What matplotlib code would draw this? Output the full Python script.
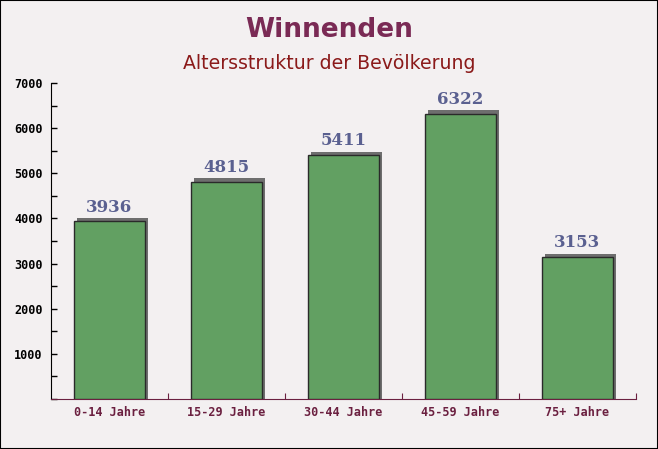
import matplotlib
matplotlib.use("Agg")
import matplotlib.pyplot as plt
from matplotlib.ticker import MultipleLocator

# data
categories = ["0-14 Jahre", "15-29 Jahre", "30-44 Jahre", "45-59 Jahre", "75+ Jahre"]
values = [3936, 4815, 5411, 6322, 3153]

bg = "#f3f0f1"
fig = plt.figure(figsize=(6.58, 4.49), dpi=100, facecolor=bg)
ax = fig.add_axes([0.0775, 0.1114, 0.889, 0.7037])
ax.set_facecolor(bg)

x = list(range(len(categories)))
w = 0.61
# shadow: same bars shifted a little right and up
ax.bar([xi + 0.028 for xi in x], [v + 70 for v in values], width=w, color="#6e6e6e",
       edgecolor="none", zorder=2)
ax.bar(x, values, width=w, color="#62a062", edgecolor="#2a2a2a", linewidth=1.0, zorder=3)

for xi, v in zip(x, values):
    ax.annotate(str(v), (xi, v), xytext=(0, 4), textcoords="offset points",
                ha="center", va="bottom", fontsize=12, fontweight="bold",
                family="DejaVu Serif", color="#5a6090", zorder=4)

ax.set_xlim(-0.5, len(categories) - 0.5)
ax.set_ylim(0, 7000)
ax.set_yticks(list(range(1000, 7001, 1000)))
ax.yaxis.set_minor_locator(MultipleLocator(500))
ax.set_xticks([i + 0.5 for i in x])
ax.set_xticklabels([])
ax.set_xticks(x, minor=True)
ax.set_xticklabels(categories, minor=True, family="DejaVu Sans Mono", fontsize=8.5,
                   fontweight="bold", color="#6b2040")
ax.tick_params(axis="x", which="major", direction="in", length=4, color="#6b2040")
ax.tick_params(axis="x", which="minor", length=0, pad=5)
ax.tick_params(axis="y", which="both", direction="in", length=4, width=1, color="black",
               labelsize=8.5, pad=6)
for lbl in ax.get_yticklabels():
    lbl.set_family("DejaVu Sans Mono")
    lbl.set_fontweight("bold")

for s in ["top", "right"]:
    ax.spines[s].set_visible(False)
ax.spines["left"].set_color("black")
ax.spines["bottom"].set_color("#6b2040")

fig.text(0.5, 0.933, "Winnenden", ha="center", va="center", fontsize=19, fontweight="bold",
         color="#7a2a55")
fig.text(0.5, 0.858, "Altersstruktur der Bevölkerung", ha="center", va="center",
         fontsize=13.6, color="#8b1a1a")

fig.patches.append(plt.Rectangle((0, 0), 1, 1, transform=fig.transFigure, fill=False,
                                 edgecolor="black", linewidth=1.5))

fig.savefig("out.png", dpi=100, facecolor=bg)
